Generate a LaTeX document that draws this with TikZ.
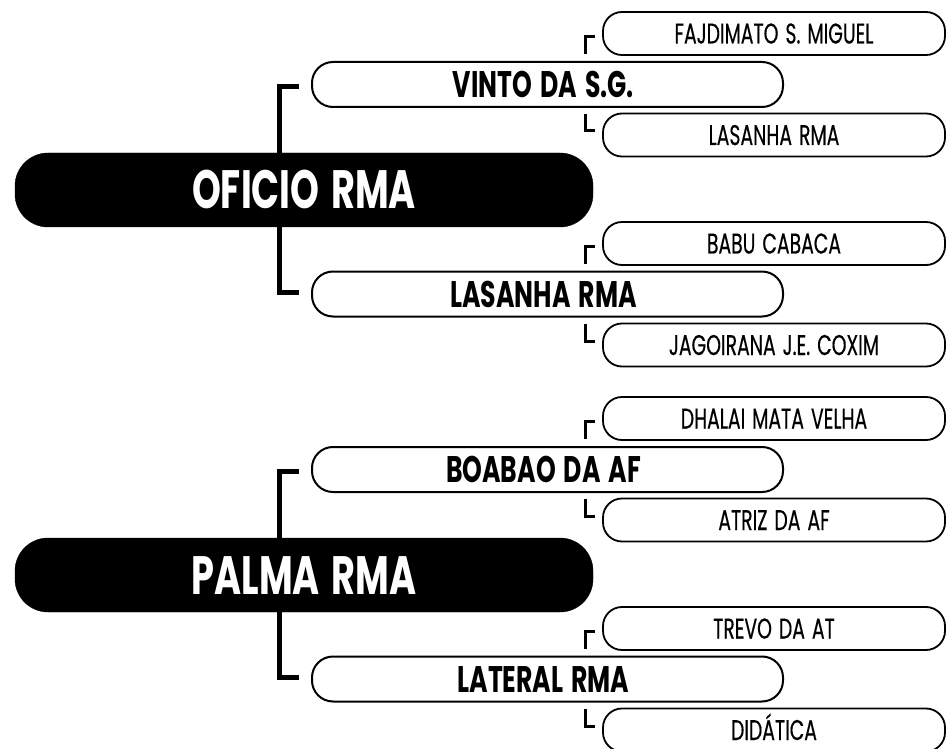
\documentclass[tikz,border=0pt]{standalone}
\usepackage{fontspec}
\newfontfamily\futf[FakeStretch=0.68, WordSpace=1.5]{Poppins}
\newfontfamily\futl[FakeStretch=0.66, WordSpace=1.4, FakeBold=0.35]{Poppins}
\usetikzlibrary{calc}
\begin{document}
\begin{tikzpicture}[x=1pt,y=-1pt,
  mainbox/.style={fill=black, draw=black, rounded corners=33pt, minimum width=578pt, minimum height=74pt, inner sep=0pt, text=white, font=\futf\bfseries\fontsize{54}{54}\selectfont, text height=38pt, text depth=0pt},
  midbox/.style={draw=black, line width=2pt, fill=white, rounded corners=21pt, minimum width=471pt, minimum height=45pt, inner sep=0pt, font=\futf\bfseries\fontsize{37}{37}\selectfont, text height=26pt, text depth=0pt},
  leafbox/.style={draw=black, line width=1.8pt, fill=white, rounded corners=19pt, minimum width=342pt, minimum height=43pt, inner sep=0pt, font=\futl\fontsize{28.5}{28.5}\selectfont, text height=20pt, text depth=0pt},
  mainbr/.style={line width=5pt, line join=miter},
  leafbr/.style={line width=3pt, line join=miter}]
\useasboundingbox (0,0) rectangle (946,749);
\fill[white] (0,0) rectangle (946,749);

% ---------- group 1 ----------
\node[mainbox] (main1) at (304,190) {OFICIO RMA};
\node[midbox] (m11) at (547.5,84.5) {VINTO DA S.G.\hspace*{8pt}};
\node[midbox] (m12) at (547.5,294) {LASANHA RMA\hspace*{8pt}};
\node[leafbox] (l111) at (774,33.5) {FAJDIMATO S. MIGUEL};
\node[leafbox] (l112) at (774,135) {LASANHA RMA};
\node[leafbox] (l121) at (774,243.5) {BABU CABACA};
\node[leafbox] (l122) at (774,345) {JAGOIRANA J.E. COXIM};

\draw[mainbr] ($(m11.west)+(-12,2)$) -| ($(m11.west |- main1.north)+(-32,0)$);
\draw[mainbr] ($(m12.west)+(-12,-2)$) -| ($(m12.west |- main1.south)+(-32,0)$);
\draw[leafbr] ($(l111.west)+(-7,3)$) -| ($(l111.west |- m11.north)+(-17,-7)$);
\draw[leafbr] ($(l112.west)+(-7,-4)$) -| ($(l112.west |- m11.south)+(-17,6)$);
\draw[leafbr] ($(l121.west)+(-7,3)$) -| ($(l121.west |- m12.north)+(-17,-7)$);
\draw[leafbr] ($(l122.west)+(-7,-4)$) -| ($(l122.west |- m12.south)+(-17,6)$);

% ---------- group 2 ----------
\node[mainbox] (main2) at (304,575) {PALMA RMA};
\node[midbox] (m21) at (547.5,469.5) {BOABAO DA AF\hspace*{8pt}};
\node[midbox] (m22) at (547.5,679) {LATERAL RMA\hspace*{8pt}};
\node[leafbox] (l211) at (774,418.5) {DHALAI MATA VELHA};
\node[leafbox] (l212) at (774,520) {ATRIZ DA AF};
\node[leafbox] (l221) at (774,628.5) {TREVO DA AT};
\node[leafbox] (l222) at (774,730) {DIDÁTICA};

\draw[mainbr] ($(m21.west)+(-12,2)$) -| ($(m21.west |- main2.north)+(-32,0)$);
\draw[mainbr] ($(m22.west)+(-12,-2)$) -| ($(m22.west |- main2.south)+(-32,0)$);
\draw[leafbr] ($(l211.west)+(-7,3)$) -| ($(l211.west |- m21.north)+(-17,-7)$);
\draw[leafbr] ($(l212.west)+(-7,-4)$) -| ($(l212.west |- m21.south)+(-17,6)$);
\draw[leafbr] ($(l221.west)+(-7,3)$) -| ($(l221.west |- m22.north)+(-17,-7)$);
\draw[leafbr] ($(l222.west)+(-7,-4)$) -| ($(l222.west |- m22.south)+(-17,6)$);
\end{tikzpicture}
\end{document}
